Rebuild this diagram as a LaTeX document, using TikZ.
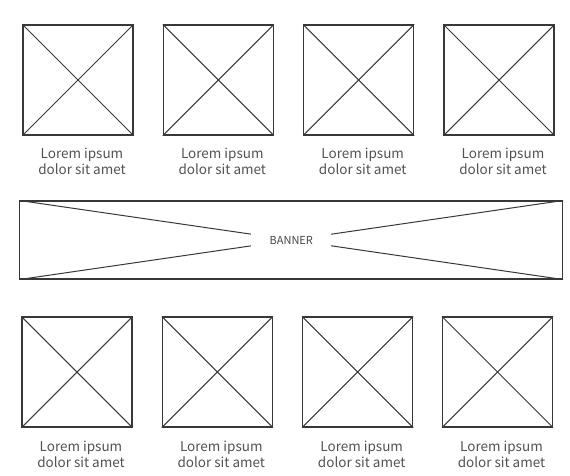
\documentclass[tikz,border=0pt]{standalone}
\usepackage{fontspec}
\setmainfont{Noto Sans CJK SC}
\begin{document}
\begin{tikzpicture}[x=1pt,y=-1pt,
  frame/.style={draw=black!78, line width=1.05pt, minimum width=110pt, minimum height=110pt, inner sep=0pt},
  cross/.style={draw=black!78, line width=1.05pt},
  lbl/.style={text=black!68, font=\fontsize{13.5pt}{16pt}\selectfont, align=center, inner sep=0pt},
  bannerbox/.style={draw=black!78, line width=1.05pt, minimum width=542.7pt, minimum height=78pt, inner sep=0pt},
  bannertxt/.style={fill=white, text=black!72, font=\fontsize{11pt}{12pt}\selectfont, minimum width=80pt, minimum height=16pt, inner sep=0pt}]
\useasboundingbox (0,0) rectangle (570,475);
% top row
\foreach \i/\cx in {1/78, 2/218.3, 3/358.7, 4/499}{
  \node[frame] (t\i) at (\cx,80) {};
  \draw[cross] (t\i.north west) -- (t\i.south east);
  \draw[cross] (t\i.north east) -- (t\i.south west);
  \node[lbl] (tl\i) at ([xshift=4pt]t\i.center |- 0,161) {Lorem ipsum\\dolor sit amet};
}
% banner
\node[bannerbox] (ban) at (291.3,240) {};
\draw[cross, line width=1pt] (ban.north west) -- (ban.south east);
\draw[cross, line width=1pt] (ban.south west) -- (ban.north east);
\node[bannertxt] (bt) at (ban.center) {BANNER};
% bottom row
\foreach \i/\cx in {1/77, 2/217.3, 3/357.7, 4/497.5}{
  \node[frame] (b\i) at (\cx,372) {};
  \draw[cross] (b\i.north west) -- (b\i.south east);
  \draw[cross] (b\i.north east) -- (b\i.south west);
  \node[lbl] (bl\i) at ([xshift=4pt]b\i.center |- 0,454) {Lorem ipsum\\dolor sit amet};
}
\end{tikzpicture}
\end{document}
